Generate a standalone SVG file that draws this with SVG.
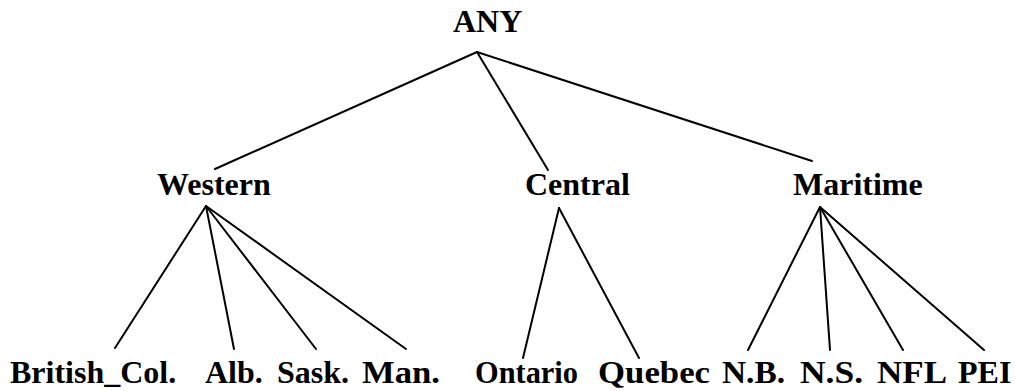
<svg xmlns="http://www.w3.org/2000/svg" width="1015" height="391" viewBox="0 0 1015 391">
  <style>
    .lbl { font-family: "Liberation Serif", "Times New Roman", serif; font-weight: bold; font-size: 32px; fill: #000; }
    .edge { stroke: #000; stroke-width: 2; fill: none; stroke-linecap: round; }
  </style>
  <rect width="1015" height="391" fill="#fff"/>

  <!-- connectors -->
  <g id="edges" class="edge">
    <line x1="477" y1="52" x2="215" y2="169"/>
    <line x1="477" y1="52" x2="548" y2="170"/>
    <line x1="477" y1="52" x2="812" y2="161"/>

    <line x1="206" y1="206" x2="115" y2="348"/>
    <line x1="206" y1="206" x2="234" y2="349"/>
    <line x1="206" y1="206" x2="316" y2="349"/>
    <line x1="206" y1="206" x2="406" y2="349"/>

    <line x1="559" y1="208" x2="523" y2="358"/>
    <line x1="559" y1="208" x2="639" y2="358"/>

    <line x1="820" y1="207" x2="748" y2="350"/>
    <line x1="820" y1="207" x2="830" y2="350"/>
    <line x1="820" y1="207" x2="903" y2="350"/>
    <line x1="820" y1="207" x2="984" y2="350"/>
  </g>

  <!-- root -->
  <g id="n-any"><text class="lbl" x="453" y="32">ANY</text></g>

  <!-- regions -->
  <g id="n-western"><text class="lbl" x="157" y="195">Western</text></g>
  <g id="n-central"><text class="lbl" x="525" y="195">Central</text></g>
  <g id="n-maritime"><text class="lbl" x="793" y="195">Maritime</text></g>

  <!-- provinces -->
  <g id="n-bc"><text class="lbl" x="10" y="383">British_Col.</text></g>
  <g id="n-alb"><text class="lbl" x="205" y="383">Alb.</text></g>
  <g id="n-sask"><text class="lbl" x="277" y="383">Sask.</text></g>
  <g id="n-man"><text class="lbl" x="362" y="383" textLength="78" lengthAdjust="spacingAndGlyphs">Man.</text></g>
  <g id="n-ontario"><text class="lbl" x="475" y="383" textLength="103" lengthAdjust="spacingAndGlyphs">Ontario</text></g>
  <g id="n-quebec"><text class="lbl" x="598" y="383" textLength="112" lengthAdjust="spacingAndGlyphs">Quebec</text></g>
  <g id="n-nb"><text class="lbl" x="722" y="383" textLength="63" lengthAdjust="spacingAndGlyphs">N.B.</text></g>
  <g id="n-ns"><text class="lbl" x="800" y="383" textLength="63" lengthAdjust="spacingAndGlyphs">N.S.</text></g>
  <g id="n-nfl"><text class="lbl" x="877" y="383" textLength="70" lengthAdjust="spacingAndGlyphs">NFL</text></g>
  <g id="n-pei"><text class="lbl" x="958" y="383">PEI</text></g>
</svg>
